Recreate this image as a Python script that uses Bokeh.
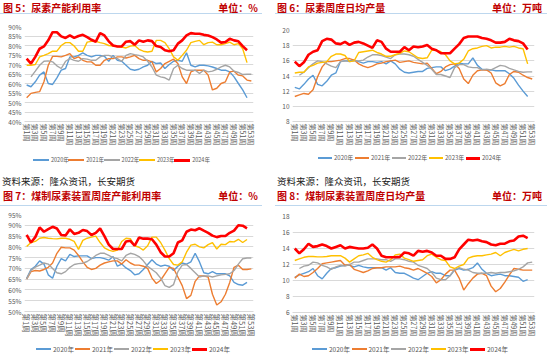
from bokeh.plotting import figure
from bokeh.models import FixedTicker, Range1d, Div
from bokeh.layouts import column, row
from bokeh.embed import file_html
from bokeh.resources import INLINE

weeks = list(range(1, 54))
week_ticks = list(range(1, 54, 2))
week_labels = {w: f"第{w}周" for w in week_ticks}
years = ["2020年", "2021年", "2022年", "2023年", "2024年"]
colors = ["#5B9BD5", "#ED7D31", "#A5A5A5", "#FFC000", "#FF0000"]
widths = [1.4, 1.4, 1.4, 1.4, 2.6]
N = None

# Figure 5: urea capacity utilisation (%)
u20 = [59.2,58.3,60.9,64.4,66.1,60.0,59.5,63.0,67.0,67.9,74.0,74.0,74.8,76.1,74.8,74.0,74.8,74.8,74.3,71.7,74.8,72.2,71.7,69.6,67.5,67.0,67.5,68.7,69.6,71.7,70.5,70.8,67.9,70.0,71.7,72.2,71.7,76.2,69.6,68.7,69.6,69.6,69.3,68.7,67.9,67.0,67.0,66.1,63.5,60.0,56.6,52.5]
u21 = [52.5,54.8,55.3,55.7,60.9,69.6,74.3,74.3,74.0,74.8,75.7,73.1,74.0,72.2,71.4,71.4,69.6,69.6,72.2,73.1,73.1,74.0,74.0,73.4,74.0,74.8,73.1,72.2,72.2,71.4,66.1,67.9,70.5,71.7,72.8,70.5,63.5,60.0,66.1,67.0,67.0,67.0,64.4,56.6,57.5,60.0,60.9,66.1,66.5,64.4,64.0,61.8,61.3]
u22 = [N,63.5,66.5,69.6,71.7,71.9,71.4,69.3,67.9,71.7,73.1,72.2,71.7,73.1,72.8,72.2,72.2,74.0,74.8,74.8,74.0,73.1,71.7,74.8,75.7,75.2,74.8,74.0,71.7,68.7,64.4,63.5,63.0,61.8,67.9,69.6,67.9,67.0,67.0,67.0,65.3,67.0,66.1,66.5,67.5,68.7,69.6,68.7,66.5,65.8,64.7,64.9,64.9]
u23 = [69.6,69.6,70.0,74.0,74.8,75.7,77.0,77.0,80.0,81.5,81.5,79.7,77.0,77.0,81.8,82.2,82.2,81.5,81.0,80.0,79.7,79.5,79.2,78.7,79.7,80.0,78.0,77.0,76.6,77.0,82.7,82.7,81.5,78.3,74.0,72.2,74.8,77.5,81.5,82.2,82.7,80.4,81.5,81.8,80.4,80.4,81.0,81.8,80.4,81.0,78.3,71.0]
u24 = [73.1,70.5,74.0,78.3,79.5,82.7,87.0,87.0,84.8,84.0,85.3,84.0,85.0,85.6,84.4,83.0,82.0,86.5,85.3,82.2,80.0,79.5,79.5,82.0,82.3,80.4,82.7,82.0,82.7,82.3,79.7,79.2,77.5,77.0,77.5,81.0,82.7,85.3,86.5,86.2,86.2,85.6,85.3,84.4,83.2,81.5,81.8,83.5,82.7,82.2,79.7,77.5]

# Figure 6: urea weekly daily output (10k t)
p20 = [12.5,12.3,12.9,13.6,14.1,12.9,12.7,13.3,14.1,14.4,15.9,16.0,16.0,16.1,15.9,15.7,15.9,15.9,15.8,15.9,15.6,16.0,15.6,14.9,14.5,14.4,14.5,14.6,14.6,15.0,15.1,15.2,15.2,14.7,14.9,15.3,15.7,15.6,15.6,16.4,15.4,14.9,14.8,14.8,14.7,14.7,14.7,14.3,13.7,12.8,12.0,11.3]
p21 = [11.3,11.5,11.7,11.6,12.2,13.9,15.2,15.9,15.9,16.0,16.1,16.3,16.3,16.1,15.6,15.3,15.1,15.3,15.6,15.7,15.9,16.0,16.1,15.8,15.9,16.0,15.8,15.7,15.6,15.7,15.0,14.3,14.6,15.2,15.5,15.6,15.0,13.6,13.0,14.1,14.7,14.8,14.8,14.4,13.1,12.7,13.0,14.2,14.6,14.5,14.1,13.8,13.6]
p22 = [N,14.1,14.5,15.1,15.6,16.0,15.9,15.6,15.3,15.1,15.9,16.0,15.9,16.0,16.0,16.1,16.5,16.8,16.8,16.7,16.5,16.3,16.8,16.9,16.9,16.8,16.6,16.2,15.8,15.4,14.9,14.2,14.2,14.0,13.8,15.1,15.5,15.5,15.2,15.1,15.1,14.8,14.9,14.8,15.1,15.4,15.3,15.0,14.8,14.6,14.5,14.55,14.55]
p23 = [14.4,14.5,14.5,15.2,15.4,15.7,15.8,15.9,16.6,16.9,16.9,16.7,15.9,16.0,17.1,17.2,17.3,17.4,17.1,16.9,16.6,16.6,16.8,17.0,17.3,17.2,16.8,16.4,16.3,16.4,17.4,17.4,17.2,16.8,16.0,15.6,15.7,16.2,17.3,17.6,17.7,17.9,18.0,17.7,17.8,17.8,17.9,17.8,17.9,17.7,17.6,15.6]
p24 = [15.9,15.3,15.8,16.8,17.2,17.4,18.6,18.9,18.8,18.3,18.2,18.5,18.1,18.4,18.5,18.3,18.0,17.7,18.7,18.5,17.6,17.2,17.2,17.2,17.8,17.4,17.9,17.8,17.9,18.1,17.6,17.4,17.0,17.0,17.0,17.6,18.2,19.0,19.2,19.2,19.2,19.0,18.9,18.7,18.4,18.4,18.5,18.9,18.7,18.6,18.3,17.5]

# Figure 7: coal-based urea capacity utilisation (%)
c20 = [65.4,69.5,71.0,73.5,72.0,67.0,65.4,71.0,74.5,73.5,76.5,75.5,75.8,75.8,75.8,74.5,75.0,75.0,74.5,73.8,75.5,71.0,72.0,70.2,69.0,67.0,67.5,69.5,71.8,74.0,72.0,71.0,71.5,71.0,69.0,71.0,72.5,72.0,73.0,77.0,73.0,68.0,67.5,68.5,67.5,67.5,67.5,66.5,63.5,62.5,62.2,63.5]
c21 = [65.0,68.5,69.0,68.8,69.5,70.5,72.5,77.0,79.8,79.5,79.5,78.5,76.0,73.0,70.5,69.5,70.0,71.5,72.5,73.0,73.5,73.5,72.0,74.0,72.5,71.5,71.5,71.0,70.0,65.5,63.0,64.5,67.5,70.5,70.0,66.0,62.0,56.0,57.5,64.0,66.5,66.5,66.0,58.0,53.0,54.5,58.0,63.5,70.5,71.5,69.5,69.5,69.8]
c22 = [65.0,69.0,70.6,71.5,72.5,72.0,70.0,68.0,67.5,68.5,70.5,71.8,72.2,72.4,73.2,74.5,76.0,77.0,77.0,76.0,75.0,74.5,73.5,76.0,77.0,76.5,75.5,73.5,71.0,69.5,68.0,65.5,62.0,61.2,62.5,68.5,71.5,71.8,70.0,68.0,66.0,66.5,66.5,66.0,66.5,67.0,67.2,67.5,69.0,72.0,74.5,74.8,74.8]
c23 = [80.2,82.0,82.5,84.0,84.3,84.0,83.8,83.7,84.0,84.0,83.5,82.5,78.8,83.0,84.0,84.5,85.0,82.0,79.5,78.5,77.9,78.5,82.5,84.0,83.8,80.5,79.8,78.5,80.5,84.5,84.5,82.0,78.5,74.5,71.8,71.5,73.0,77.5,80.8,81.2,80.0,79.5,81.0,82.0,79.0,81.2,81.0,82.5,82.3,83.5,82.0,83.4]
c24 = [85.5,82.0,84.5,89.0,87.0,88.2,89.3,88.5,85.5,85.3,88.1,86.0,86.5,87.8,87.3,85.5,86.5,88.5,85.0,81.0,79.0,79.0,79.0,82.5,82.8,80.5,84.3,83.8,83.8,83.5,81.0,77.5,75.5,75.5,77.0,82.0,83.0,87.0,88.0,87.7,88.6,87.5,86.5,85.2,84.5,85.0,85.0,86.5,87.5,90.0,89.8,88.6]

# Figure 8: coal-based urea weekly daily output (10k t)
d20 = [10.4,10.7,10.9,11.1,11.5,10.6,10.2,10.9,11.5,11.6,11.8,11.9,11.9,11.7,11.9,11.7,11.6,11.6,11.6,11.6,11.3,11.6,11.0,10.9,10.9,10.6,10.3,10.1,10.5,10.9,11.1,10.9,10.9,10.6,10.6,11.3,11.5,11.3,11.4,11.6,12.2,11.4,10.9,10.6,10.7,10.8,10.6,10.6,10.5,10.4,9.9,10.1]
d21 = [10.3,10.8,10.5,10.6,11.0,11.5,12.1,12.2,12.3,12.4,12.5,11.9,12.0,11.4,11.2,11.0,11.2,11.5,11.6,11.6,11.7,11.7,11.7,11.8,11.6,11.5,11.3,11.5,11.2,10.9,10.5,9.7,10.1,10.8,11.3,11.3,10.3,8.8,9.6,10.3,10.8,10.9,10.6,9.3,8.6,9.0,9.8,10.7,11.5,11.4,11.3,11.3,11.3]
d22 = [N,11.5,11.8,11.9,12.3,12.2,11.9,11.7,11.4,11.7,11.9,11.8,12.0,12.3,12.3,12.5,12.7,12.7,12.7,12.6,12.6,12.4,12.7,12.7,12.6,12.4,12.3,11.9,11.7,11.5,11.0,10.3,10.1,10.1,10.6,11.4,11.6,11.4,11.3,11.0,10.9,10.9,10.9,11.0,10.9,11.0,11.0,11.1,11.2,11.4,11.7,12.2,12.3]
d23 = [12.5,12.7,12.9,13.0,13.0,12.95,12.95,13.0,13.1,13.1,13.1,12.8,12.3,12.7,13.1,13.2,13.4,12.9,12.6,12.4,12.3,12.6,13.2,13.3,12.8,12.6,12.4,12.5,12.6,13.1,13.3,12.9,12.6,12.5,11.7,11.5,11.8,12.0,12.8,13.0,13.1,13.1,13.2,13.3,13.5,13.1,13.5,13.7,13.9,13.7,13.9,14.0]
d24 = [14.0,13.4,13.9,14.6,14.2,14.3,14.5,14.3,14.0,14.2,14.4,14.0,14.2,14.1,14.0,14.0,14.1,14.5,14.0,13.1,12.9,12.9,12.9,12.95,13.5,13.4,13.1,13.7,13.6,13.7,13.5,13.1,13.1,12.7,12.7,12.9,13.9,14.5,15.1,15.0,15.1,14.9,14.8,14.5,14.4,14.6,14.6,14.9,15.0,15.5,15.6,15.3]

FONT = "Noto Sans CJK SC"
TITLE_RED = "#C00000"
SOURCE = "资料来源：隆众资讯，长安期货"
W = 275


def pad(vals):
    out = [float("nan") if v is None else v for v in vals]
    return out + [float("nan")] * (53 - len(out))


def make_plot(series, H, L, R, T, B, yr, yticks, yfmt, xfs):
    p = figure(width=W, height=H, output_backend="svg", toolbar_location=None,
               x_range=Range1d(0.5, 53.5), y_range=Range1d(*yr),
               min_border_left=L, min_border_right=R, min_border_top=T, min_border_bottom=B)
    p.outline_line_color = None
    p.xgrid.grid_line_color = None
    p.ygrid.grid_line_color = "#D9D9D9"
    p.ygrid.grid_line_width = 1
    p.yaxis.ticker = FixedTicker(ticks=yticks)
    p.yaxis.major_label_overrides = {t: yfmt.format(t) for t in yticks}
    p.yaxis.axis_line_color = None
    p.yaxis.major_tick_line_color = None
    p.yaxis.minor_tick_line_color = None
    p.yaxis.major_tick_out = 0
    p.yaxis.major_tick_in = 0
    p.yaxis.minor_tick_out = 0
    p.yaxis.major_label_text_font = FONT
    p.yaxis.major_label_text_font_size = "6.5px"
    p.yaxis.major_label_text_color = "#595959"
    p.yaxis.major_label_standoff = 3
    p.xaxis.ticker = FixedTicker(ticks=week_ticks)
    p.xaxis.major_label_overrides = week_labels
    p.xaxis.major_label_orientation = "vertical"
    p.xaxis.axis_line_color = "#D9D9D9"
    p.xaxis.major_tick_line_color = None
    p.xaxis.minor_tick_line_color = None
    p.xaxis.major_tick_out = 0
    p.xaxis.major_tick_in = 0
    p.xaxis.minor_tick_out = 0
    p.xaxis.major_label_text_font = FONT
    p.xaxis.major_label_text_font_size = xfs
    p.xaxis.major_label_text_color = "#595959"
    p.xaxis.major_label_standoff = 2
    for vals, col, lw in zip(series, colors, widths):
        p.line(weeks, pad(vals), line_color=col, line_width=lw)
    return p


def title_div(left, right, h, cy, left_x, right_x, line_y, line_w):
    base = (f"position:absolute;top:{cy - 7}px;height:14px;line-height:14px;font-size:10px;"
            f"font-weight:bold;color:{TITLE_RED};white-space:nowrap;font-family:'{FONT}';")
    html = (f'<div style="position:relative;width:{W}px;height:{h}px;overflow:hidden;">'
            f'<span style="{base}left:{left_x}px;">{left}</span>'
            f'<span style="{base}right:{W - right_x}px;">{right}</span>'
            f'<div style="position:absolute;left:0;top:{line_y}px;width:{line_w}px;height:1px;'
            f'background:#BDD7EE;"></div></div>')
    return Div(text=html, width=W, height=h, margin=0)


def legend_div(h, cy, start, pitch, gw, fs):
    parts = [f'<div style="position:relative;width:{W}px;height:{h}px;overflow:hidden;">']
    for i, (name, col) in enumerate(zip(years, colors)):
        x = start + pitch * i
        lw = 3 if i == 4 else 2
        parts.append(f'<div style="position:absolute;left:{x}px;top:{cy - lw / 2}px;width:{gw}px;'
                     f'height:{lw}px;background:{col};"></div>')
        parts.append(f'<span style="position:absolute;left:{x + gw + 2}px;top:{cy - 5}px;height:10px;'
                     f'line-height:10px;font-size:{fs}px;color:#595959;white-space:nowrap;'
                     f"font-family:'{FONT}';\">{name}</span>")
    parts.append('</div>')
    return Div(text="".join(parts), width=W, height=h, margin=0)


def source_div(h, cy):
    html = (f'<div style="position:relative;width:{W}px;height:{h}px;overflow:hidden;">'
            f'<span style="position:absolute;left:2px;top:{cy - 7}px;height:14px;line-height:14px;'
            f"font-size:9.5px;color:#1a1a1a;white-space:nowrap;font-family:'{FONT}';\">{SOURCE}</span></div>")
    return Div(text=html, width=W, height=h, margin=0)


pct = "{:.0f}%"
num = "{:.0f}"

# top: title 15 | plot 133 | legend 24 | source 16 -> 188
p1 = make_plot([u20, u21, u22, u23, u24], 133, 24, 22, 11, 26, (40, 90), list(range(40, 95, 5)), pct, "7px")
p2 = make_plot([p20, p21, p22, p23, p24], 133, 17, 16, 15, 25, (8, 20), list(range(8, 22, 2)), num, "7px")
# bottom: title 19 | plot 132 | legend 18 -> 169
p3 = make_plot([c20, c21, c22, c23, c24], 132, 24, 22, 7, 26, (50, 95), list(range(50, 100, 5)), pct, "7.5px")
p4 = make_plot([d20, d21, d22, d23, d24], 132, 17, 16, 9, 25, (6, 18), list(range(6, 20, 2)), num, "7px")

t5 = title_div("图 5：尿素产能利用率", "单位：%", 15, 7.5, 3, 258, 13, 262)
t6 = title_div("图 6：尿素周度日均产量", "单位：万吨", 15, 7.5, 2, 267, 13, 272)
t7 = title_div("图 7：煤制尿素装置周度产能利用率", "单位：%", 19, 7.7, 3, 258, 17, 262)
t8 = title_div("图 8：煤制尿素装置周度日均产量", "单位：万吨", 19, 7.7, 2, 267, 17, 272)

l1 = legend_div(24, 12, 33, 35.3, 16, 5.5)
l2 = legend_div(24, 10, 43, 37, 14, 6)
l3 = legend_div(18, 10, 36, 39, 15, 6.5)
l4 = legend_div(18, 10, 37, 39.5, 15, 6.5)

s1 = source_div(16, 9)
s2 = source_div(16, 9)

left = column(t5, p1, l1, s1, t7, p3, l3)
right = column(t6, p2, l2, s2, t8, p4, l4)
layout = row(left, right)
open("out.html", "w").write(file_html(layout, INLINE))
